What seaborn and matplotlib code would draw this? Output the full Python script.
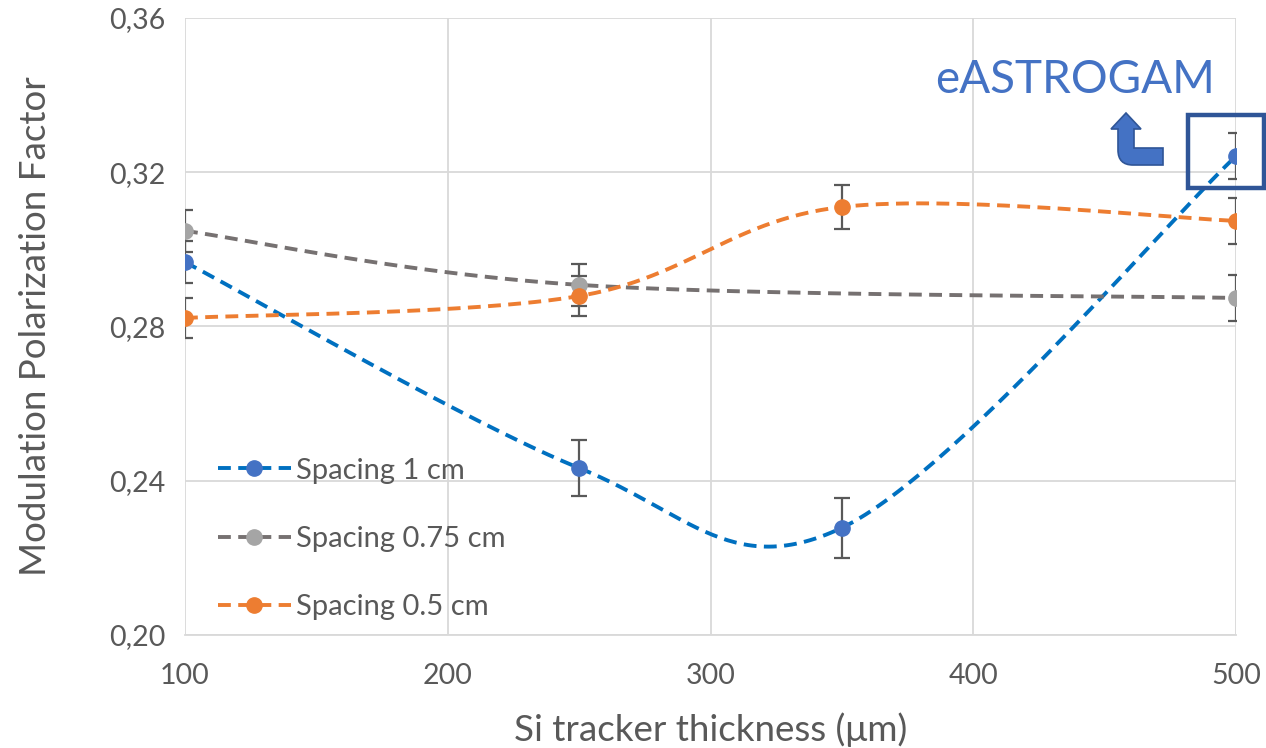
import numpy as np
import matplotlib
matplotlib.use("Agg")
import matplotlib.pyplot as plt
import seaborn as sns
from matplotlib.path import Path
from matplotlib.patches import PathPatch, Rectangle
from matplotlib.ticker import FuncFormatter

# data
x_1cm = [100, 250, 350, 500]
y_1cm = [0.2967, 0.2433, 0.2278, 0.3242]
e_1cm = [0.0055, 0.0073, 0.0078, 0.0060]

x_075cm = [100, 250, 500]
y_075cm = [0.3048, 0.2908, 0.2874]
e_075cm = [0.0055, 0.0055, 0.0060]

x_05cm = [100, 250, 350, 500]
y_05cm = [0.2822, 0.2879, 0.3110, 0.3074]
e_05cm = [0.0052, 0.0052, 0.0057, 0.0060]

labels = ["Spacing 1 cm", "Spacing 0.75 cm", "Spacing 0.5 cm"]


def smooth(xs, ys, n=60):
    # Excel-like smoothed line (Catmull-Rom Bezier)
    P = np.column_stack([xs, ys]).astype(float)
    P = np.vstack([P[0], P, P[-1]])
    out = []
    for i in range(1, len(P) - 2):
        p0, p1, p2, p3 = P[i - 1], P[i], P[i + 1], P[i + 2]
        c1 = p1 + (p2 - p0) / 6
        c2 = p2 - (p3 - p1) / 6
        t = np.linspace(0, 1, n)[:, None]
        seg = ((1 - t) ** 3) * p1 + 3 * ((1 - t) ** 2) * t * c1 + 3 * (1 - t) * t ** 2 * c2 + t ** 3 * p2
        out.append(seg)
    out = np.vstack(out)
    return out[:, 0], out[:, 1]


sns.set_theme(style="white")
plt.rcParams['font.family'] = ['Lato', 'DejaVu Sans']
txt = "#595959"

fig = plt.figure(figsize=(12.66, 7.48), dpi=100)
ax = fig.add_axes([185 / 1266, 1 - 635 / 748, (1236 - 185) / 1266, (635 - 18) / 748])

series = [
    (x_1cm, y_1cm, e_1cm, "#0070C0", "#4472C4"),
    (x_075cm, y_075cm, e_075cm, "#767171", "#A5A5A5"),
    (x_05cm, y_05cm, e_05cm, "#ED7D31", "#ED7D31"),
]

for (xs, ys, es, lc, mc), lab in zip(series, labels):
    sx, sy = smooth(xs, ys)
    sns.lineplot(x=sx, y=sy, ax=ax, color=lc, lw=2.8, sort=False, zorder=3)
    ax.lines[-1].set_dashes([3.3, 1.9])
    ax.errorbar(xs, ys, yerr=es, fmt="none", ecolor="#595959", elinewidth=1.6,
                capsize=6, capthick=1.6, zorder=4)
    ax.plot(xs, ys, ls="none", marker="o", ms=11, color=mc, zorder=5)
    ax.plot([], [], color=lc, lw=2.8, dashes=[3.3, 1.9], marker="o", ms=11,
            markerfacecolor=mc, markeredgecolor=mc, label=lab)

ax.set_xlim(100, 500)
ax.set_ylim(0.20, 0.36)
ax.set_xticks([100, 200, 300, 400, 500])
ax.set_yticks([0.20, 0.24, 0.28, 0.32, 0.36])
ax.yaxis.set_major_formatter(FuncFormatter(lambda v, p: f"{v:.2f}".replace(".", ",")))
ax.grid(True, color="#D9D9D9", lw=1.3)
for s in ["top", "right", "left"]:
    ax.spines[s].set_visible(False)
ax.spines["bottom"].set_color("#D9D9D9")
ax.spines["bottom"].set_linewidth(1.3)
ax.tick_params(axis="y", length=0, labelsize=20.5, labelcolor=txt, pad=14)
ax.tick_params(axis="x", length=0, labelsize=20.5, labelcolor=txt, pad=20)
ax.set_xlabel("Si tracker thickness (μm)", fontsize=26.5, color=txt, labelpad=17)
ax.set_ylabel("Modulation Polarization Factor", fontsize=26.5, color=txt, labelpad=41)

handles, labs = ax.get_legend_handles_labels()
ax.legend(handles[-3:], labs[-3:], loc="lower left", bbox_to_anchor=(0.02, 0.005),
          frameon=False, fontsize=21, labelcolor=txt, handlelength=2.5,
          handletextpad=0.2, labelspacing=1.45, borderaxespad=0)

# annotation
fig.text(935 / 1266, 1 - 93 / 748, "eASTROGAM", color="#4472C4", fontsize=33,
         ha="left", va="baseline")
W, H = 1266, 748
fig.patches.append(Rectangle((1188 / W, 1 - 188 / H), 76 / W, 73 / H,
                             transform=fig.transFigure, fill=False,
                             edgecolor="#2F5597", lw=3.2, zorder=10))

pts = [(1126, 113), (1141, 129), (1134, 129), (1134, 148), (1163, 148),
       (1163, 165), (1133, 165), (1118, 165), (1118, 150), (1118, 129),
       (1111, 129), (1126, 113)]
codes = [Path.MOVETO, Path.LINETO, Path.LINETO, Path.LINETO, Path.LINETO,
         Path.LINETO, Path.LINETO, Path.CURVE3, Path.CURVE3, Path.LINETO,
         Path.LINETO, Path.CLOSEPOLY]
verts = [(px / W, 1 - py / H) for px, py in pts]
fig.patches.append(PathPatch(Path(verts, codes), transform=fig.transFigure,
                             facecolor="#4472C4", edgecolor="#2F5597", lw=1.2, zorder=10))

fig.savefig("out.png", dpi=100)
